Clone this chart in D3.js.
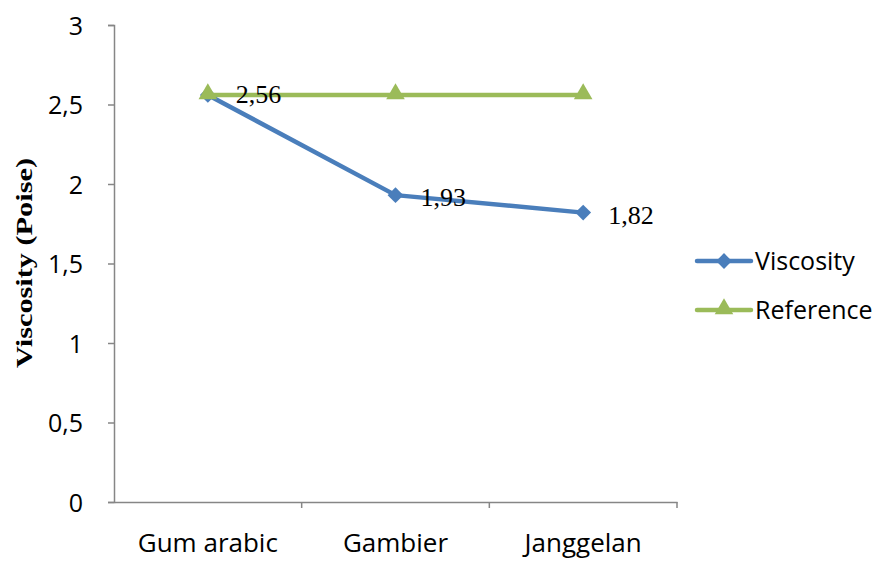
<!DOCTYPE html>
<html>
<head>
<meta charset="utf-8">
<script src="https://cdn.jsdelivr.net/npm/d3@7"></script>
<style>
  body { margin: 0; background: #fff; }
  svg { display: block; }
</style>
</head>
<body>
<svg id="chart" width="874" height="561"></svg>
<script>
const categories = ["Gum arabic", "Gambier", "Janggelan"];
const viscosity = [2.56, 1.93, 1.82];
const reference = [2.56, 2.56, 2.56];
const yTicks = [0, 0.5, 1, 1.5, 2, 2.5, 3];
const valueLabels = ["2,56", "1,93", "1,82"];

const svg = d3.select("#chart");
const plotLeft = 114, plotRight = 677, plotTop = 25, plotBottom = 502;
const axisColor = "#868686";
const sansFont = "'Open Sans', 'Noto Sans', sans-serif";
const serifFont = "'Liberation Serif', 'DejaVu Serif', serif";

const x = d3.scaleBand().domain(categories).range([plotLeft, plotRight]);
const y = d3.scaleLinear().domain([0, 3]).range([plotBottom, plotTop]);
const cx = (c) => x(c) + x.bandwidth() / 2;

// y axis
const yAxis = svg.append("g")
  .attr("transform", `translate(${plotLeft},0)`)
  .call(d3.axisLeft(y).tickValues(yTicks).tickSize(6)
    .tickFormat((d) => String(d).replace(".", ",")));
yAxis.select(".domain").attr("stroke", axisColor).attr("stroke-width", 1.5);
yAxis.selectAll(".tick line").attr("stroke", axisColor).attr("stroke-width", 1.5);
yAxis.selectAll(".tick text")
  .attr("x", -31)
  .attr("dy", "0.36em")
  .attr("fill", "#000")
  .style("font-family", sansFont)
  .style("font-size", "25px");

// x axis
const xAxis = svg.append("g")
  .attr("transform", `translate(0,${plotBottom})`)
  .call(d3.axisBottom(x).tickSizeOuter(0).tickSize(0));
xAxis.select(".domain").attr("stroke", axisColor).attr("stroke-width", 1.5);
xAxis.selectAll(".tick text")
  .attr("y", 32)
  .attr("fill", "#000")
  .style("font-family", sansFont)
  .style("font-size", "26px");
// category boundary ticks
const bounds = categories.map((c) => x(c) + x.bandwidth());
xAxis.selectAll(".bound")
  .data(bounds)
  .enter()
  .append("line")
  .attr("x1", (d) => d).attr("x2", (d) => d)
  .attr("y1", 0).attr("y2", 6)
  .attr("stroke", axisColor).attr("stroke-width", 1.5);

// y title
svg.append("text")
  .attr("transform", "translate(32,263) rotate(-90)")
  .attr("text-anchor", "middle")
  .attr("textLength", 210)
  .attr("lengthAdjust", "spacingAndGlyphs")
  .style("font-family", serifFont)
  .style("font-weight", "bold")
  .style("font-size", "23px")
  .text("Viscosity (Poise)");

const blue = "#4a7ebb";
const green = "#9bbb59";
const line = d3.line().x((d, i) => cx(categories[i])).y((d) => y(d));

const diamond = d3.symbol().type(d3.symbolSquare).size(125);
const triangle = d3.symbol().type(d3.symbolTriangle).size(150);

// Viscosity series
svg.append("path")
  .datum(viscosity)
  .attr("d", line)
  .attr("fill", "none")
  .attr("stroke", blue)
  .attr("stroke-width", 4.5)
  .attr("stroke-linejoin", "round");
svg.selectAll(".vm")
  .data(viscosity)
  .enter()
  .append("path")
  .attr("d", diamond)
  .attr("transform", (d, i) => `translate(${cx(categories[i])},${y(d)}) rotate(45)`)
  .attr("fill", blue);

// Reference series
svg.append("path")
  .datum(reference)
  .attr("d", line)
  .attr("fill", "none")
  .attr("stroke", green)
  .attr("stroke-width", 4.5);
svg.selectAll(".rm")
  .data(reference)
  .enter()
  .append("path")
  .attr("d", triangle)
  .attr("transform", (d, i) => `translate(${cx(categories[i])},${y(d) - 1})`)
  .attr("fill", green);

// data labels
svg.selectAll(".lbl")
  .data(viscosity)
  .enter()
  .append("text")
  .attr("x", (d, i) => cx(categories[i]) + (i === 0 ? 28 : 25))
  .attr("y", (d, i) => y(d) + (i === 0 ? 8 : 11))
  .style("font-family", serifFont)
  .style("font-size", "26px")
  .attr("fill", "#000")
  .text((d, i) => valueLabels[i]);

// legend
const legendItems = [
  { name: "Viscosity", color: blue, sym: diamond, rot: "rotate(45)", y: 261 },
  { name: "Reference", color: green, sym: triangle, rot: "", y: 310 },
];
const lg = svg.selectAll(".lg")
  .data(legendItems)
  .enter()
  .append("g")
  .attr("transform", (d) => `translate(697,${d.y})`);
lg.append("line")
  .attr("x1", 0).attr("x2", 54)
  .attr("stroke", (d) => d.color)
  .attr("stroke-width", 4.5)
  .attr("stroke-linecap", "round");
lg.append("path")
  .attr("d", (d) => d.sym())
  .attr("transform", (d) => `translate(27,${d.name === "Reference" ? -1 : 0}) ${d.rot}`)
  .attr("fill", (d) => d.color);
lg.append("text")
  .attr("x", 58)
  .attr("y", 9)
  .style("font-family", sansFont)
  .style("font-size", "25px")
  .attr("fill", "#000")
  .text((d) => d.name);
</script>
</body>
</html>
